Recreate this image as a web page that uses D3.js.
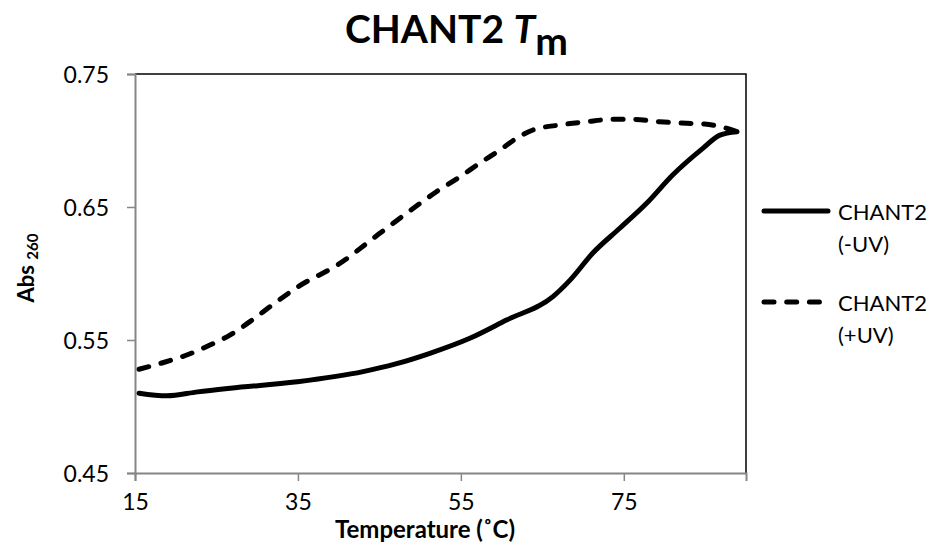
<!DOCTYPE html>
<html><head><meta charset="utf-8">
<script src="https://cdn.jsdelivr.net/npm/d3@7"></script>
<style>body{margin:0;background:#fff} text{font-family:Lato, "Open Sans", sans-serif; fill:#000}</style>
</head><body><svg id="c" width="930" height="550"></svg>
<script>
const xTicks = [15, 35, 55, 75];
const yTicks = [0.45, 0.55, 0.65, 0.75];
const seriesNames = ["CHANT2\n(-UV)", "CHANT2\n(+UV)"];
const tempMinusUV = [15.5, 18.9, 22.7, 26.7, 34.9, 43.0, 47.0, 51.2, 56.1, 60.6, 66.3, 68.4, 71.2, 74.5, 77.8, 81.0, 84.7, 86.8, 88.9];
const absMinusUV  = [0.510, 0.508, 0.511, 0.5137, 0.5186, 0.5262, 0.532, 0.540, 0.5513, 0.565, 0.5826, 0.595, 0.6154, 0.634, 0.6528, 0.6741, 0.6941, 0.7041, 0.7066];
const tempPlusUV = [15.5, 18.4, 21.35, 24.2, 26.7, 29.1, 32.0, 35.0, 40.0, 45.0, 50.0, 52.0, 54.9, 57.3, 59.8, 61.85, 63.85, 67.2, 70.4, 73.7, 76.1, 79.4, 82.7, 84.9, 87.6, 88.9];
const absPlusUV  = [0.528, 0.5329, 0.5387, 0.5462, 0.5538, 0.5638, 0.577, 0.590, 0.607, 0.630, 0.6528, 0.6615, 0.6728, 0.6829, 0.6929, 0.7017, 0.7079, 0.7117, 0.7141, 0.7159, 0.7159, 0.7141, 0.7129, 0.7124, 0.7092, 0.7066];

const svg = d3.select("#c");
const L = 135, R = 746, T = 74, B = 473;
const x = d3.scaleLinear().domain([15, 90]).range([L, R]);
const y = d3.scaleLinear().domain([0.45, 0.75]).range([B, T]);

// frame (top & right black)
svg.append("path").attr("d", `M${L},${T}H${R}V${B}`).attr("fill","none").attr("stroke","#000").attr("stroke-width",1.5);

// axes
const xAxis = svg.append("g").attr("transform", `translate(0,${B})`)
  .call(d3.axisBottom(x).tickValues(xTicks).tickSize(8).tickFormat(d3.format("d")));
const yAxis = svg.append("g").attr("transform", `translate(${L},0)`)
  .call(d3.axisLeft(y).tickValues(yTicks).tickSize(8).tickFormat(d3.format(".2f")));
[xAxis, yAxis].forEach(g => {
  g.select(".domain").attr("stroke", "#868686").attr("stroke-width", 2);
  g.selectAll(".tick line").attr("stroke", "#868686").attr("stroke-width", 1.5);
  g.selectAll(".tick text").attr("font-size", 23).attr("font-family", "Lato").attr("fill", "#000");
});
xAxis.selectAll(".tick text").attr("dy", null).attr("y", 37);
yAxis.selectAll(".tick text").attr("x", -26).attr("dy", "0.35em");

// lines
const mk = (xs, ys) => xs.map((v, i) => [v, ys[i]]);
const line = d3.line().x(d => x(d[0])).y(d => y(d[1])).curve(d3.curveMonotoneX);
svg.append("path").datum(mk(tempMinusUV, absMinusUV)).attr("d", line)
  .attr("fill","none").attr("stroke","#000").attr("stroke-width",5).attr("stroke-linecap","round").attr("stroke-linejoin","round");
svg.append("path").datum(mk(tempPlusUV, absPlusUV)).attr("d", line)
  .attr("fill","none").attr("stroke","#000").attr("stroke-width",5).attr("stroke-linecap","round").attr("stroke-dasharray","10 12.7");

// title
const title = svg.append("text").attr("x", 345).attr("y", 43).attr("font-size", 39).attr("font-weight", "bold");
title.append("tspan").text("CHANT2 ");
title.append("tspan").attr("font-style","italic").text("T");
title.append("tspan").attr("dy", 12).text("m");

// axis titles
svg.append("text").attr("x", 425).attr("y", 538).attr("text-anchor","middle")
  .attr("font-size", 24).attr("font-weight","bold").text("Temperature (˚C)");
const yt = svg.append("text").attr("transform", `translate(34,268) rotate(-90)`).attr("text-anchor","middle")
  .attr("font-size", 22).attr("font-weight","bold");
yt.append("tspan").text("Abs ");
yt.append("tspan").attr("font-size", 15).attr("dy", 4).text("260");

// legend
const leg = [{dash:null, y:211, name:seriesNames[0]}, {dash:"10 12.7", y:302, name:seriesNames[1]}];
leg.forEach(d => {
  svg.append("line").attr("x1", 764).attr("x2", 828).attr("y1", d.y).attr("y2", d.y)
    .attr("stroke","#000").attr("stroke-width",5).attr("stroke-linecap","round")
    .attr("stroke-dasharray", d.dash);
  const parts = d.name.split("\n");
  svg.append("text").attr("x", 838).attr("y", d.y + 9).attr("font-size", 22).text(parts[0]);
  svg.append("text").attr("x", 838).attr("y", d.y + 41).attr("font-size", 22).text(parts[1]);
});
</script>
</body></html>
